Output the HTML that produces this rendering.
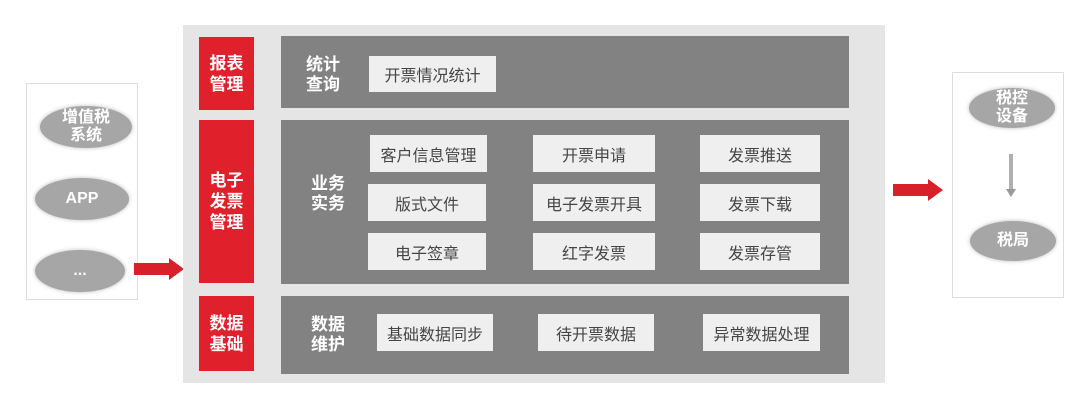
<!DOCTYPE html>
<html><head><meta charset="utf-8"><style>
*{margin:0;padding:0;box-sizing:border-box}
body{width:1080px;height:405px;background:#fff;position:relative;overflow:hidden;font-family:"Liberation Sans","Noto Sans CJK SC",sans-serif}
.a{position:absolute}
.red{background:#e0202b;color:#fff;font-weight:bold;font-size:17px;line-height:21px;display:flex;align-items:center;justify-content:center;text-align:center}
.dk{background:#828282}
.lb{color:#fff;font-weight:bold;font-size:17px;line-height:20px;text-align:center}
.w{background:#efefef;color:#454545;font-size:16px;display:flex;align-items:center;justify-content:center}
.el{background:#a6a6a6;border-radius:50%;color:#fff;font-weight:bold;font-size:16px;line-height:18px;display:flex;align-items:center;justify-content:center;text-align:center;box-shadow:0 0 4px #bbb}
.box{border:1px solid #ddd;background:#fff}
</style></head><body>
<div class="a box" style="left:26px;top:83px;width:112px;height:217px"></div>
<div class="a el" style="left:40px;top:106px;width:92px;height:42px">增值税<br>系统</div>
<div class="a el" style="left:35px;top:178px;width:94px;height:42px">APP</div>
<div class="a el" style="left:35px;top:250px;width:90px;height:42px">...</div>

<div class="a box" style="left:952px;top:72px;width:112px;height:226px"></div>
<div class="a el" style="left:969px;top:88px;width:86px;height:40px">税控<br>设备</div>
<div class="a el" style="left:970px;top:221px;width:86px;height:40px">税局</div>
<div class="a" style="left:1009px;top:154px;width:4px;height:36px;background:#b0b0b0"></div>
<div class="a" style="left:1006px;top:189px;width:0;height:0;border-left:5px solid transparent;border-right:5px solid transparent;border-top:8px solid #999"></div>

<div class="a" style="left:134px;top:263px;width:36px;height:12px;background:#d8202a"></div>
<div class="a" style="left:169px;top:258px;width:0;height:0;border-top:11px solid transparent;border-bottom:11px solid transparent;border-left:15px solid #d8202a"></div>
<div class="a" style="left:893px;top:184px;width:36px;height:12px;background:#d8202a"></div>
<div class="a" style="left:928px;top:179px;width:0;height:0;border-top:11px solid transparent;border-bottom:11px solid transparent;border-left:15px solid #d8202a"></div>

<div class="a" style="left:183px;top:25px;width:702px;height:358px;background:#e6e5e6"></div>
<div class="a red" style="left:199px;top:37px;width:55px;height:73px">报表<br>管理</div>
<div class="a red" style="left:199px;top:120px;width:55px;height:163px">电子<br>发票<br>管理</div>
<div class="a red" style="left:199px;top:296px;width:55px;height:75px">数据<br>基础</div>

<div class="a dk" style="left:281px;top:36px;width:568px;height:72px"></div>
<div class="a dk" style="left:281px;top:120px;width:568px;height:164px"></div>
<div class="a dk" style="left:281px;top:296px;width:568px;height:78px"></div>

<div class="a lb" style="left:300px;top:55px;width:46px">统计<br>查询</div>
<div class="a lb" style="left:305px;top:174px;width:46px">业务<br>实务</div>
<div class="a lb" style="left:305px;top:315px;width:46px">数据<br>维护</div>

<div class="a w" style="left:369px;top:56px;width:127px;height:36px">开票情况统计</div>

<div class="a w" style="left:370px;top:135px;width:117px;height:37px">客户信息管理</div>
<div class="a w" style="left:368px;top:184px;width:118px;height:37px">版式文件</div>
<div class="a w" style="left:368px;top:233px;width:118px;height:37px">电子签章</div>
<div class="a w" style="left:533px;top:135px;width:122px;height:37px">开票申请</div>
<div class="a w" style="left:533px;top:184px;width:122px;height:37px">电子发票开具</div>
<div class="a w" style="left:533px;top:233px;width:122px;height:37px">红字发票</div>
<div class="a w" style="left:700px;top:135px;width:120px;height:37px">发票推送</div>
<div class="a w" style="left:700px;top:184px;width:120px;height:37px">发票下载</div>
<div class="a w" style="left:700px;top:233px;width:120px;height:37px">发票存管</div>

<div class="a w" style="left:377px;top:314px;width:116px;height:37px">基础数据同步</div>
<div class="a w" style="left:538px;top:314px;width:116px;height:37px">待开票数据</div>
<div class="a w" style="left:703px;top:314px;width:117px;height:37px">异常数据处理</div>
</body></html>
